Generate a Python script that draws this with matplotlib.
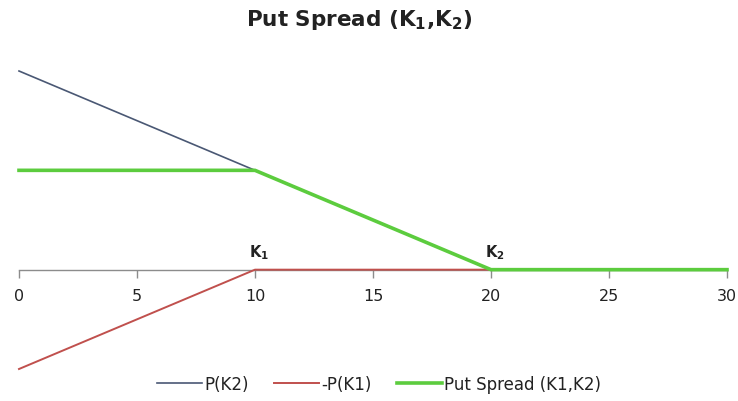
import matplotlib
matplotlib.use("Agg")
import matplotlib.pyplot as plt

# Data
x_vals = [0, 10, 20, 30]
p_k2 = [20, 10, 0, 0]
neg_p_k1 = [-10, 0, 0, 0]
put_spread = [10, 10, 0, 0]
x_ticks = [0, 5, 10, 15, 20, 25, 30]
strike_labels = ["K$_\\mathbf{1}$", "K$_\\mathbf{2}$"]
strike_x = [10, 20]

W, H = 738, 402
fig = plt.figure(figsize=(W / 100, H / 100), dpi=100)
ax = fig.add_axes([19 / W, (H - 370) / H, (727 - 19) / W, (370 - 72) / H])
ax.set_xlim(0, 30)
ax.set_ylim(-10, 20)

ax.plot(x_vals, p_k2, color="#4a5874", lw=1.2, label="P(K2)", clip_on=False, zorder=3)
ax.plot(x_vals, neg_p_k1, color="#c0504d", lw=1.4, label="-P(K1)", clip_on=False, zorder=3)
ax.plot(x_vals, put_spread, color="#5ccc3e", lw=2.6, label="Put Spread (K1,K2)", clip_on=False, zorder=4)

for s in ["left", "right", "top"]:
    ax.spines[s].set_visible(False)
ax.spines["bottom"].set_position(("data", 0))
ax.spines["bottom"].set_color("#8c8c8c")
ax.spines["bottom"].set_linewidth(1.0)
ax.set_yticks([])
ax.set_xticks(x_ticks)
ax.tick_params(axis="x", direction="out", length=6, color="#8c8c8c", width=1.0,
               labelsize=11.5, labelcolor="#222222", pad=7)
ax.patch.set_alpha(0)

for lab, xv in zip(strike_labels, strike_x):
    ax.text(xv + 0.15, 0.9, lab, ha="center", va="bottom", fontsize=10.5,
            fontweight="bold", color="#222222")

fig.text(359 / W, 1 - 20 / H, "Put Spread (K$_\\mathbf{1}$,K$_\\mathbf{2}$)", ha="center", va="center",
         fontsize=15.5, fontweight="bold", color="#222222")

leg = fig.legend(loc="center", bbox_to_anchor=(379 / W, 1 - 385 / H), ncol=3, frameon=False,
                 fontsize=12, handlelength=2.7, handletextpad=0.15, columnspacing=1.5)
for t in leg.get_texts():
    t.set_color("#222222")

fig.savefig("out.png", dpi=100)
